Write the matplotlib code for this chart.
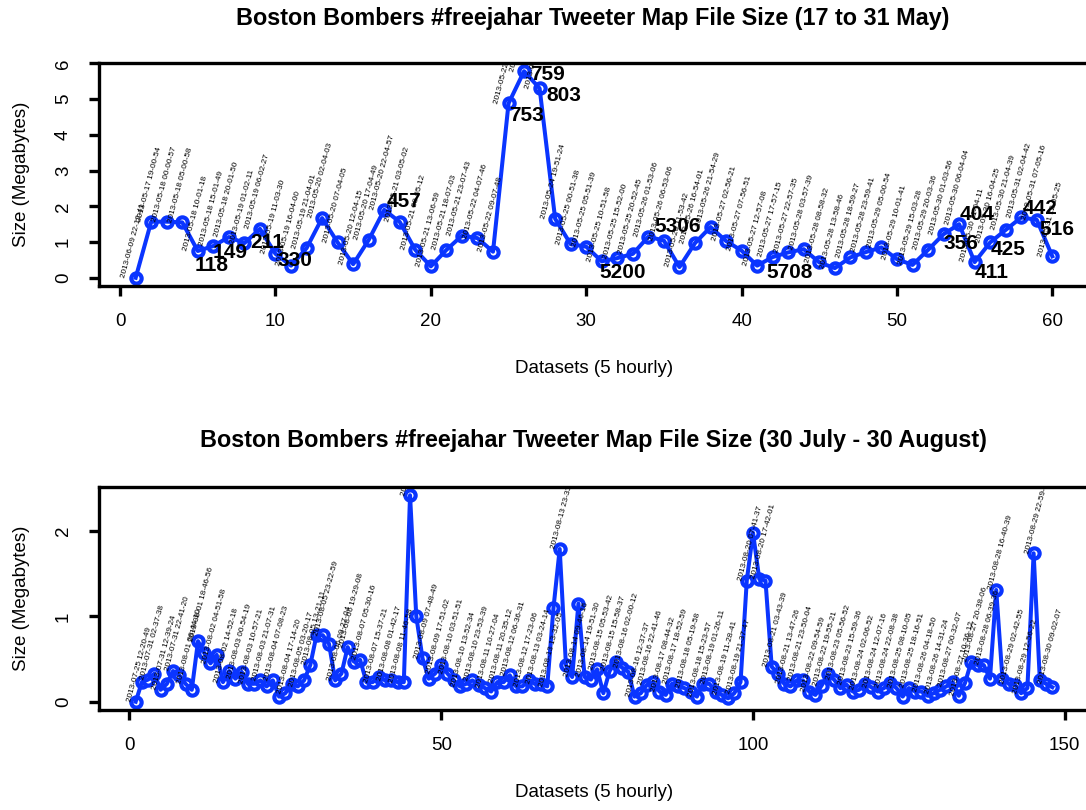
import matplotlib
matplotlib.use("Agg")
import matplotlib.pyplot as plt
import numpy as np

plt.rcParams.update({
    'font.family': ['Liberation Sans', 'DejaVu Sans'],
    'font.size': 12,
})

BLUE = '#0a35ff'

# ── Data: 17 to 31 May ──────────────────────────────────────────────
may_size = [0.00, 1.57, 1.57, 1.55, 0.75, 0.89, 1.14, 0.97, 1.37, 0.67,
            0.34, 0.83, 1.67, 0.99, 0.38, 1.06, 1.90, 1.56, 0.78, 0.32,
            0.78, 1.18, 1.11, 0.73, 4.88, 5.78, 5.30, 1.65, 0.94, 0.87,
            0.46, 0.55, 0.67, 1.15, 1.04, 0.30, 0.97, 1.42, 1.03, 0.76,
            0.34, 0.58, 0.71, 0.80, 0.43, 0.27, 0.57, 0.72, 0.85, 0.52,
            0.36, 0.78, 1.22, 1.50, 0.44, 0.99, 1.34, 1.69, 1.62, 0.60]

may_stamps = [
    "2013-06-09 22-12-41", "2013-05-17 19-00-54", "2013-05-18 00-00-57",
    "2013-05-18 05-00-58", "2013-05-18 10-01-18", "2013-05-18 15-01-49",
    "2013-05-18 20-01-50", "2013-05-19 01-02-11", "2013-05-19 06-02-27",
    "2013-05-19 11-03-30", "2013-05-19 16-04-00", "2013-05-19 21-04-01",
    "2013-05-20 02-04-03", "2013-05-20 07-04-05", "2013-05-20 12-04-15",
    "2013-05-20 17-04-49", "2013-05-20 22-04-57", "2013-05-21 03-05-02",
    "2013-05-21 08-05-12", "2013-05-21 13-06-59", "2013-05-21 18-07-03",
    "2013-05-21 23-07-43", "2013-05-22 04-07-46", "2013-05-22 09-07-48",
    "2013-05-22 14-08-05", "2013-05-22 19-08-27", "2013-05-23 00-08-51",
    "2013-05-24 19-51-24", "2013-05-25 00-51-38", "2013-05-25 05-51-39",
    "2013-05-25 10-51-58", "2013-05-25 15-52-00", "2013-05-25 20-52-45",
    "2013-05-26 01-53-06", "2013-05-26 06-53-06", "2013-05-26 11-53-42",
    "2013-05-26 16-54-01", "2013-05-26 21-54-29", "2013-05-27 02-56-21",
    "2013-05-27 07-56-51", "2013-05-27 12-57-08", "2013-05-27 17-57-15",
    "2013-05-27 22-57-35", "2013-05-28 03-57-39", "2013-05-28 08-58-32",
    "2013-05-28 13-58-46", "2013-05-28 18-59-27", "2013-05-28 23-59-41",
    "2013-05-29 05-00-54", "2013-05-29 10-01-41", "2013-05-29 15-03-28",
    "2013-05-29 20-03-36", "2013-05-30 01-03-56", "2013-05-30 06-04-04",
    "2013-05-30 11-04-11", "2013-05-30 16-04-25", "2013-05-30 21-04-39",
    "2013-05-31 02-04-42", "2013-05-31 07-05-16", "2013-05-31 12-05-25",
]

# bold tweeter counts, attached to a dataset number
count_text = ["118", "149", "211", "330", "457", "753", "759", "803", "5200",
              "5306", "5708", "356", "404", "411", "425", "442", "516"]
count_point = [5, 7, 9, 11, 17, 25, 26, 27, 31, 35, 42, 53, 54, 55, 56, 58, 59]
# pixel offsets of the bold counts from their point
count_offset = [(14, -15), (1, -15), (7, -14), (4, 5), (20, 8), (18, -12),
                (23, -3), (24, -7), (21, -11), (14, 14), (17, -15), (17, -9),
                (18, 10), (17, -10), (18, -7), (19, 9), (20, -10)]

# ── Data: 30 July - 30 August ───────────────────────────────────────
aug_size = [0.00, 0.23, 0.26, 0.33, 0.14, 0.21, 0.36, 0.31, 0.21, 0.14,
            0.71, 0.57, 0.45, 0.55, 0.23, 0.36, 0.27, 0.35, 0.21, 0.21,
            0.25, 0.18, 0.25, 0.06, 0.10, 0.21, 0.18, 0.25, 0.43, 0.78,
            0.78, 0.68, 0.25, 0.33, 0.64, 0.47, 0.49, 0.23, 0.23, 0.29,
            0.25, 0.25, 0.23, 0.23, 2.42, 1.00, 0.51, 0.27, 0.33, 0.43,
            0.33, 0.25, 0.18, 0.21, 0.25, 0.20, 0.16, 0.12, 0.23, 0.23,
            0.31, 0.18, 0.18, 0.25, 0.21, 0.21, 0.18, 1.10, 1.79, 0.43,
            0.29, 1.15, 0.29, 0.26, 0.38, 0.10, 0.36, 0.47, 0.40, 0.35,
            0.06, 0.10, 0.20, 0.23, 0.12, 0.08, 0.21, 0.18, 0.16, 0.12,
            0.06, 0.21, 0.21, 0.12, 0.08, 0.04, 0.10, 0.23, 1.42, 1.98,
            1.44, 1.42, 0.41, 0.33, 0.21, 0.18, 0.25, 0.25, 0.12, 0.08,
            0.19, 0.32, 0.26, 0.16, 0.20, 0.12, 0.14, 0.21, 0.17, 0.12,
            0.16, 0.22, 0.16, 0.06, 0.16, 0.12, 0.12, 0.07, 0.10, 0.14,
            0.18, 0.23, 0.07, 0.22, 0.47, 0.43, 0.43, 0.27, 1.31, 0.27,
            0.21, 0.20, 0.10, 0.16, 1.74, 0.25, 0.21, 0.17]

# stamps of every other dataset (1, 3, 5, ...)
aug_stamps = [
    "2013-07-25 12-20-49", "2013-07-31 02-37-38", "2013-07-31 12-39-24",
    "2013-07-31 22-41-20", "2013-08-01 08-44-10", "2013-08-01 18-46-56",
    "2013-08-02 04-51-58", "2013-08-02 14-52-18", "2013-08-03 00-54-19",
    "2013-08-03 10-57-21", "2013-08-03 21-07-31", "2013-08-04 07-08-23",
    "2013-08-04 17-14-20", "2013-08-05 03-20-17", "2013-08-05 13-21-11",
    "2013-08-05 23-22-59", "2013-08-06 09-27-04", "2013-08-06 19-29-08",
    "2013-08-07 05-30-16", "2013-08-07 15-37-21", "2013-08-08 01-42-17",
    "2013-08-08 11-46-58", "2013-08-08 21-47-31", "2013-08-09 07-48-49",
    "2013-08-09 17-51-02", "2013-08-10 03-51-51", "2013-08-10 13-52-34",
    "2013-08-10 23-53-39", "2013-08-11 10-27-04", "2013-08-11 20-35-12",
    "2013-08-12 06-36-31", "2013-08-12 17-23-06", "2013-08-13 03-24-14",
    "2013-08-13 13-32-05", "2013-08-13 23-33-18", "2013-08-14 09-46-16",
    "2013-08-14 19-51-30", "2013-08-15 05-53-42", "2013-08-15 15-58-37",
    "2013-08-16 02-00-12", "2013-08-16 12-37-37", "2013-08-16 22-41-46",
    "2013-08-17 08-44-32", "2013-08-17 18-52-59", "2013-08-18 05-19-58",
    "2013-08-18 15-23-57", "2013-08-19 01-26-11", "2013-08-19 11-28-41",
    "2013-08-19 21-37-47", "2013-08-20 07-41-37", "2013-08-20 17-42-01",
    "2013-08-21 03-43-39", "2013-08-21 13-47-26", "2013-08-21 23-50-04",
    "2013-08-22 09-54-59", "2013-08-22 19-55-21", "2013-08-23 05-56-52",
    "2013-08-23 15-59-36", "2013-08-24 02-06-52", "2013-08-24 12-07-16",
    "2013-08-24 22-08-38", "2013-08-25 08-10-05", "2013-08-25 18-16-51",
    "2013-08-26 04-18-50", "2013-08-26 14-31-24", "2013-08-27 00-32-07",
    "2013-08-27 10-36-12", "2013-08-27 20-38-06", "2013-08-28 06-39-36",
    "2013-08-28 16-40-39", "2013-08-29 02-42-55", "2013-08-29 12-56-22",
    "2013-08-29 22-59-34", "2013-08-30 09-02-07",
]

titles = ["Boston Bombers #freejahar Tweeter Map File Size (17 to 31 May)",
          "Boston Bombers #freejahar Tweeter Map File Size (30 July - 30 August)"]


def r_lim(lo, hi):
    # R's default 4% axis padding
    pad = (hi - lo) * 0.04
    return lo - pad, hi + pad


def style_axes(ax, xticks, yticks):
    for side in ['top', 'bottom', 'left']:
        ax.spines[side].set_linewidth(2.4)
    ax.spines['right'].set_visible(False)
    ax.set_xticks(xticks)
    ax.set_yticks(yticks)
    ax.tick_params(direction='out', length=7.5, width=2.4, labelsize=13.5, pad=12)
    ax.tick_params(axis='y', labelrotation=90)
    for lab in ax.get_yticklabels():
        lab.set_va('center')
    ax.set_xlabel("Datasets (5 hourly)", fontsize=13.5)
    ax.set_ylabel("Size (Megabytes)", fontsize=13.5)
    ax.xaxis.label.set_va('center')
    ax.yaxis.label.set_va('center')
    ax.xaxis.set_label_coords(0.5, -0.37)
    ax.yaxis.set_label_coords(-0.078, 0.5)


def series(ax, x, y):
    ax.plot(x, y, linestyle='none', marker='o', markersize=7.4, markeredgewidth=3.0,
            markerfacecolor='white', markeredgecolor=BLUE, zorder=2, clip_on=False)
    ax.plot(x, y, color=BLUE, linewidth=2.9, zorder=3, clip_on=False)


def stamp(ax, x, y, s, dx):
    # small rotated time stamp, clipped to the plot box like R's text()
    ax.annotate(s, xy=(x, y), xytext=(dx, 0), textcoords='offset pixels',
                rotation=75, rotation_mode='anchor', ha='left', va='center',
                fontsize=5.9, zorder=4, clip_on=True)


fig = plt.figure(figsize=(10.86, 8.10), dpi=100)
W, H = 1086, 810
ax1 = fig.add_axes([99 / W, (H - 286) / H, 990 / W, 223 / H])
ax2 = fig.add_axes([99 / W, (H - 710) / H, 990 / W, 223 / H])

# ── Top panel ───────────────────────────────────────────────────────
x1 = np.arange(1, len(may_size) + 1)
series(ax1, x1, may_size)
for xi, yi, s in zip(x1, may_size, may_stamps):
    stamp(ax1, xi, yi, s, -12)
for txt, p, off in zip(count_text, count_point, count_offset):
    ax1.annotate(txt, xy=(x1[p - 1], may_size[p - 1]), xytext=off,
                 textcoords='offset pixels', ha='center', va='center',
                 fontsize=15, fontweight='bold', zorder=5)
ax1.set_xlim(*r_lim(1, 60))
ax1.set_ylim(-0.23, 6.01)
style_axes(ax1, range(0, 61, 10), range(0, 7))

# ── Bottom panel ────────────────────────────────────────────────────
x2 = np.arange(1, len(aug_size) + 1)
series(ax2, x2, aug_size)
for xi, yi, s in zip(x2[::2], aug_size[::2], aug_stamps):
    stamp(ax2, xi, yi, s, -6)
ax2.set_xlim(*r_lim(1, 148))
ax2.set_ylim(*r_lim(0, max(aug_size)))
style_axes(ax2, range(0, 151, 50), range(0, 3))

fig.text(593 / W, 1 - 18 / H, titles[0], ha='center', va='center',
         fontsize=16.8, fontweight='bold')
fig.text(593 / W, 1 - 440 / H, titles[1], ha='center', va='center',
         fontsize=16.8, fontweight='bold')

fig.savefig("out.png", dpi=100)
